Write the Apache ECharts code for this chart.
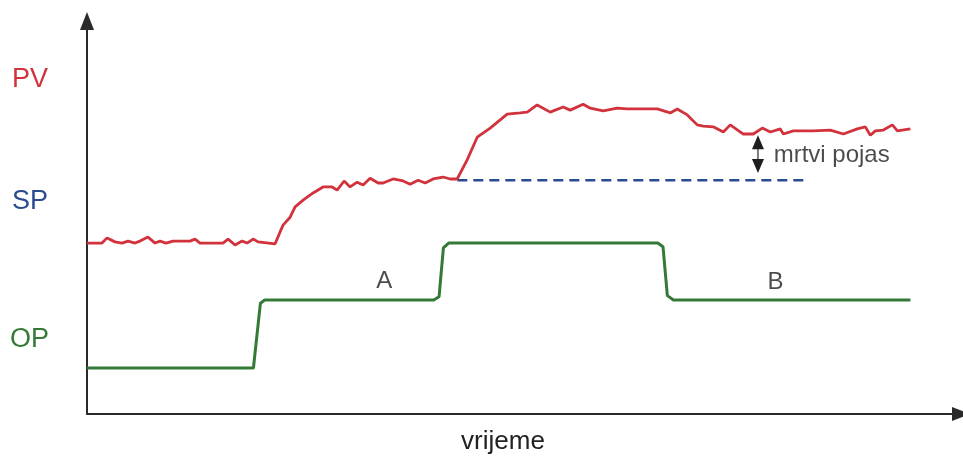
<!DOCTYPE html>
<html>
<head>
<meta charset="utf-8">
<script src="https://cdn.jsdelivr.net/npm/echarts@6/dist/echarts.min.js"></script>
<style>html,body{margin:0;padding:0;background:#fff}#c{width:963px;height:457px}</style>
</head>
<body>
<div id="c"></div>
<script>
// time axis (arbitrary units) and levels (arbitrary units)
const pvTime = [0,1.72,2.30,3.21,4.02,4.71,5.51,6.08,7.00,7.81,8.38,9.07,9.87,11.83,12.40,12.97,15.61,16.19,16.99,17.80,18.37,19.06,19.63,21.58,22.16,22.50,23.31,23.88,24.80,25.95,27.09,28.13,28.70,29.51,30.19,31.00,31.69,32.49,33.41,33.98,35.13,36.28,37.08,38.00,38.81,39.72,40.87,41.68,42.48,43.63,44.78,46.27,48.22,49.71,50.52,51.66,53.16,54.65,55.45,56.94,57.75,59.24,60.85,62.00,65.44,66.93,67.74,68.89,70.03,70.72,71.87,73.02,73.82,75.32,76.46,77.50,78.42,79.56,79.91,81.06,83.35,85.30,86.80,88.40,89.32,89.90,90.47,91.39,92.42,93.00,94.49];
const pvValue = [42.7,42.7,44.0,43.0,42.7,43.2,42.7,43.2,44.2,42.7,43.2,42.7,43.2,43.2,43.7,42.7,42.7,43.7,42.2,43.2,42.7,43.7,43.0,42.5,45.5,47.2,49.2,51.8,53.5,55.3,56.8,56.8,56.0,58.3,56.8,58.0,57.3,59.0,57.8,57.8,58.8,58.3,57.5,58.5,57.8,58.8,59.3,58.8,58.8,63.6,69.3,71.6,75.1,75.4,75.6,77.4,75.6,76.9,76.1,77.6,76.6,75.9,76.6,76.4,76.4,75.4,76.4,74.9,72.4,72.1,71.9,70.6,72.4,70.1,70.1,71.6,70.6,71.4,70.1,70.9,70.9,71.1,70.1,71.4,71.9,69.8,70.9,71.1,72.4,70.9,71.4];

const spTime = [42.5, 82.4];
const spValue = [58.5, 58.5];

const opTime = [0,19.1,19.9,20.4,39.8,40.4,40.9,41.5,65.5,66.1,66.6,67.3,94.5];
const opValue = [11.3,11.3,27.6,28.4,28.4,29.2,41.5,42.7,42.7,41.8,29.5,28.4,28.4];

const deadBandTime = 77.0;
const deadBandFrom = 60.3;
const deadBandTo = 69.8;

const noteText = ['A', 'B', 'mrtvi pojas'];
const noteTime = [34.1, 79.0, 78.8];
const noteValue = [33.0, 32.7, 64.8];

const seriesLabels = ['PV', 'SP', 'OP'];
const xAxisName = 'vrijeme';

const zip = (a, b) => a.map((v, i) => [v, b[i]]);
const FONT = '"Liberation Sans", Arial, sans-serif';
const RED = '#d2323c', BLUE = '#2b4a90', GREEN = '#347a36', AX = '#2a2a2a';

const chart = echarts.init(document.getElementById('c'), null, {renderer: 'canvas'});
const axisCommon = {
  type: 'value',
  axisLine: {show: true, onZero: false, lineStyle: {color: AX, width: 2}, symbol: ['none', 'triangle'], symbolSize: [14, 18]},
  axisTick: {show: false}, axisLabel: {show: false}, splitLine: {show: false}
};
const textGraphics = [
  {type: 'text', left: 12, top: 66, style: {text: seriesLabels[0], fill: RED, font: '27px ' + FONT}},
  {type: 'text', left: 12, top: 188, style: {text: seriesLabels[1], fill: BLUE, font: '27px ' + FONT}},
  {type: 'text', left: 10, top: 326, style: {text: seriesLabels[2], fill: GREEN, font: '27px ' + FONT}},
  {type: 'text', x: 503, y: 442, style: {text: xAxisName, fill: '#222', font: '26px ' + FONT, align: 'center', verticalAlign: 'middle'}}
];
chart.setOption({
  animation: false,
  backgroundColor: '#fff',
  grid: {left: 87, right: 2, top: 21, bottom: 43},
  xAxis: Object.assign({}, axisCommon, {min: 0, max: 100.3}),
  yAxis: Object.assign({}, axisCommon, {min: -0.25, max: 98.5}),
  graphic: textGraphics,
  series: [
    {name: 'OP', type: 'line', data: zip(opTime, opValue), showSymbol: false, lineStyle: {color: GREEN, width: 3}, z: 3},
    {name: 'SP', type: 'line', data: zip(spTime, spValue), showSymbol: false, lineStyle: {color: BLUE, width: 2.5, type: [10, 6]}, z: 2},
    {name: 'PV', type: 'line', data: zip(pvTime, pvValue), showSymbol: false, lineStyle: {color: RED, width: 2.8}, z: 4},
    {name: 'notes', type: 'scatter', symbolSize: 0, silent: true,
      data: noteText.map((t, i) => ({value: [noteTime[i], noteValue[i]], name: t,
        label: i === 2 ? {position: 'right', distance: 0} : {}})),
      label: {show: true, position: 'inside', formatter: p => p.name, color: '#1e1e1e', fontSize: 24, fontFamily: FONT}
    }
  ]
});
// dead-band double arrow, positioned through the chart's own scales
const lo = chart.convertToPixel({gridIndex: 0}, [deadBandTime, deadBandFrom]);
const hi = chart.convertToPixel({gridIndex: 0}, [deadBandTime, deadBandTo]);
const hw = 6, hh = 14, cx = hi[0];
chart.setOption({graphic: textGraphics.concat([
  {type: 'line', shape: {x1: cx, y1: hi[1] + hh - 1, x2: cx, y2: lo[1] - hh + 1}, style: {stroke: '#555', lineWidth: 1.5}, z: 10},
  {type: 'polygon', shape: {points: [[cx, hi[1]], [cx - hw, hi[1] + hh], [cx + hw, hi[1] + hh]]}, style: {fill: '#1e1e1e'}, z: 10},
  {type: 'polygon', shape: {points: [[cx, lo[1]], [cx - hw, lo[1] - hh], [cx + hw, lo[1] - hh]]}, style: {fill: '#1e1e1e'}, z: 10}
])});
</script>
</body>
</html>
